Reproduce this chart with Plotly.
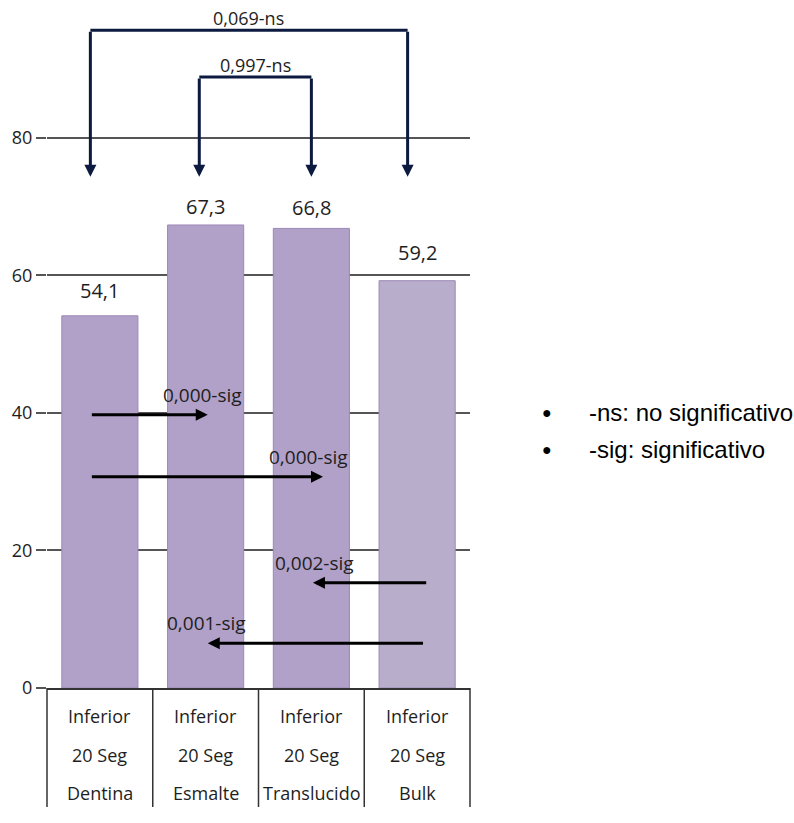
import plotly.graph_objects as go

# ---------------- data ----------------
categories = ["Dentina", "Esmalte", "Translucido", "Bulk"]
row1 = ["Inferior", "Inferior", "Inferior", "Inferior"]
row2 = ["20 Seg", "20 Seg", "20 Seg", "20 Seg"]
values = [54.1, 67.3, 66.8, 59.2]
y_ticks = [0, 20, 40, 60, 80]

# pairwise comparisons drawn as brackets (from index, to index, label)
bracket_pairs = [(0, 3, "0,069-ns"), (1, 2, "0,997-ns")]
# pairwise comparisons drawn as horizontal arrows (from index, to index, label)
arrow_pairs = [(0, 1, "0,000-sig"), (0, 2, "0,000-sig"), (3, 2, "0,002-sig"), (3, 1, "0,001-sig")]
legend_items = ["-ns: no significativo", "-sig: significativo"]

# ---------------- styling / placement ----------------
bar_colors = ["#B1A0C7", "#B1A0C7", "#B1A0C7", "#B8ADCA"]
bar_line = "#9C89B7"
grid_col = "#555555"
navy = "#0D1A40"
FONT = "Open Sans"
TXT = "#1E1E1E"

value_label_shift = [25, 18, 21, 28]          # px above bar top (label centre)
bracket_y = [95.6, 88.8]                      # height of bracket bars
bracket_tip = 74.3                            # arrow tips
bracket_off = [(-0.09, -0.09), (-0.06, 0.0)]
arrow_y = [39.7, 30.7, 15.3, 6.5]
arrow_off = [(-0.09, 0.02), (-0.09, 0.11), (0.10, 0.015), (0.07, 0.02)]
arrow_label_dx = [-0.05, -0.14, 0.01, -0.01]

xs = list(range(len(categories)))
x_range = [-0.5, len(categories) - 0.5]

fig = go.Figure()
fig.add_trace(go.Bar(
    x=xs, y=values, width=0.72,
    marker=dict(color=bar_colors, line=dict(color=bar_line, width=1)),
    hoverinfo="skip", showlegend=False,
))

annotations = []
shapes = []

# value labels
for x, v, s in zip(xs, values, value_label_shift):
    annotations.append(dict(
        x=x, y=v, xref="x", yref="y", text=f"{v:.1f}".replace(".", ","),
        showarrow=False, yanchor="middle", yshift=s,
        font=dict(family=FONT, size=20, color=TXT),
    ))

# brackets (ns comparisons)
for (a, b, lab), yb, (oa, ob) in zip(bracket_pairs, bracket_y, bracket_off):
    xa, xb = a + oa, b + ob
    shapes.append(dict(type="line", xref="x", yref="y", x0=xa, x1=xb, y0=yb, y1=yb,
                       line=dict(color=navy, width=3)))
    for xx in (xa, xb):
        annotations.append(dict(
            x=xx, y=bracket_tip, ax=xx, ay=yb, xref="x", yref="y", axref="x", ayref="y",
            text="", showarrow=True, arrowhead=2, arrowsize=0.8, arrowwidth=3,
            arrowcolor=navy, standoff=0, startstandoff=0,
        ))
    annotations.append(dict(
        x=(xa + xb) / 2, y=yb, xref="x", yref="y", text=lab, showarrow=False,
        yanchor="bottom", yshift=-2, font=dict(family=FONT, size=18, color=TXT),
    ))

# horizontal arrows (sig comparisons)
for (a, b, lab), ya, (oa, ob), dx in zip(arrow_pairs, arrow_y, arrow_off, arrow_label_dx):
    xa, xb = a + oa, b + ob
    annotations.append(dict(
        x=xb, y=ya, ax=xa, ay=ya, xref="x", yref="y", axref="x", ayref="y",
        text="", showarrow=True, arrowhead=2, arrowsize=0.8, arrowwidth=3,
        arrowcolor="#000000", standoff=0, startstandoff=0,
    ))
    annotations.append(dict(
        x=xb + dx, y=ya, xref="x", yref="y", text=lab, showarrow=False,
        yanchor="middle", yshift=20, font=dict(family=FONT, size=19, color=TXT),
    ))

# category table below the axis
row_y = [-0.0407, -0.0974, -0.1526]
for x, r1, r2, c in zip(xs, row1, row2, categories):
    for txt, yy in zip((r1, r2, c), row_y):
        annotations.append(dict(
            x=x, y=yy, xref="x", yref="paper", text=txt, showarrow=False,
            yanchor="middle", font=dict(family=FONT, size=18, color=TXT),
        ))
span = x_range[1] - x_range[0]
for k in range(len(categories) + 1):
    px = ((k - 0.5) - x_range[0]) / span
    shapes.append(dict(type="line", xref="paper", yref="paper", x0=px, x1=px, y0=0, y1=-0.173,
                       line=dict(color="#333333", width=1.5)))

# legend text
leg_y = [0.401, 0.346]
for txt, yy in zip(legend_items, leg_y):
    annotations.append(dict(x=1.182, y=yy, xref="paper", yref="paper", text="●",
                            showarrow=False, xanchor="center", yanchor="middle",
                            font=dict(family="Liberation Sans", size=16, color="#000000")))
    annotations.append(dict(x=1.277, y=yy, xref="paper", yref="paper", text=txt,
                            showarrow=False, xanchor="left", yanchor="middle",
                            font=dict(family="Liberation Sans", size=24, color="#000000")))

fig.update_layout(
    width=794, height=823,
    margin=dict(l=47, r=324, t=0, b=135),
    paper_bgcolor="white", plot_bgcolor="white",
    bargap=0.28,
    xaxis=dict(range=x_range, showticklabels=False, showgrid=False, zeroline=False,
               showline=True, linecolor="#333333", linewidth=1.5, ticks="", fixedrange=True),
    yaxis=dict(range=[0, 100], tickvals=y_ticks, showgrid=True, gridcolor=grid_col, gridwidth=1.5,
               zeroline=False, showline=False, ticks="outside", ticklen=10, tickwidth=1.5,
               tickcolor=grid_col, tickfont=dict(family=FONT, size=18, color=TXT)),
    annotations=annotations, shapes=shapes, showlegend=False,
)

fig.write_html("out.html")
